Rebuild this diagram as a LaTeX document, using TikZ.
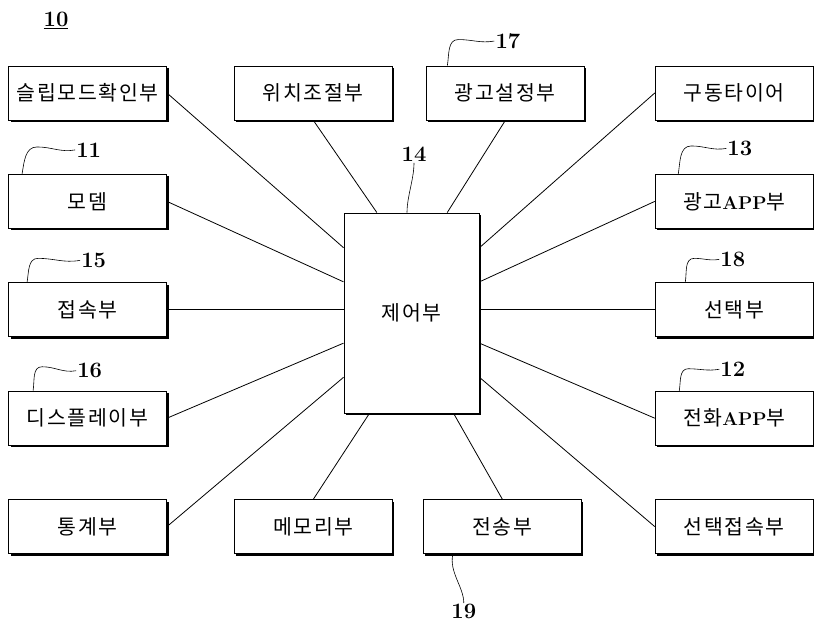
\documentclass[tikz,border=0pt]{standalone}
\usepackage{fontspec}
\newfontfamily\krfont[LetterSpace=8]{Noto Sans CJK KR}
\usetikzlibrary{calc,positioning,shadows}

\begin{document}
\begin{tikzpicture}[
    unit/.style={rectangle,draw,fill=white,line width=0.9pt,minimum width=158pt,minimum height=54pt,inner sep=0pt,
        font=\krfont\fontsize{20.5}{23}\selectfont,
        drop shadow={shadow xshift=2pt,shadow yshift=-2pt,fill=black,opacity=1}},
    ctrlbox/.style={unit,minimum width=135pt,minimum height=200pt},
    link/.style={line width=0.8pt},
    lead/.style={line width=0.6pt},
    refnum/.style={inner sep=1pt,font=\fontsize{22}{24}\selectfont\bfseries},
    node distance=53.5pt]
        \useasboundingbox (0,0) rectangle (814pt,-623pt);

        %boxes
        \node[unit] (slip) at (87.5pt,-93pt) {슬립모드확인부};
        \node[unit,below = of slip] (modem) {모뎀};
        \node[unit,below = of modem] (jeopsok) {접속부};
        \node[unit,below = of jeopsok] (disp) {디스플레이부};
        \node[unit,below = of disp] (stat) {통계부};

        \node[unit,right = 67pt of slip] (pos) {위치조절부};
        \node[unit,right = 33pt of pos] (adset) {광고설정부};
        \node[unit,right = 70pt of adset] (drive) {구동타이어};

        \node[unit,below = of drive] (adapp) {광고{\rmfamily\bfseries\fontsize{18.5}{22}\selectfont APP}부};
        \node[unit,below = of adapp] (select) {선택부};
        \node[unit,below = of select] (telapp) {전화{\rmfamily\bfseries\fontsize{18.5}{22}\selectfont APP}부};
        \node[unit,below = of telapp] (selcon) {선택접속부};

        \node[unit,right = 67pt of stat] (memory) {메모리부};
        \node[unit,right = 30pt of memory] (send) {전송부};

        \node[ctrlbox] (ctrl) at (411.5pt,-313pt) {제어부};

        %links
        \draw[link] (slip.east) -- ($(ctrl.north west)!.175!(ctrl.south west)$);
        \draw[link] (modem.east) -- ($(ctrl.north west)!.345!(ctrl.south west)$);
        \draw[link] (jeopsok.east) -- (jeopsok.east -| ctrl.west);
        \draw[link] (disp.east) -- ($(ctrl.north west)!.65!(ctrl.south west)$);
        \draw[link] (stat.east) -- ($(ctrl.north west)!.82!(ctrl.south west)$);

        \draw[link] (drive.west) -- ($(ctrl.north east)!.175!(ctrl.south east)$);
        \draw[link] (adapp.west) -- ($(ctrl.north east)!.345!(ctrl.south east)$);
        \draw[link] (select.west) -- (select.west -| ctrl.east);
        \draw[link] (telapp.west) -- ($(ctrl.north east)!.65!(ctrl.south east)$);
        \draw[link] (selcon.west) -- ($(ctrl.north east)!.82!(ctrl.south east)$);

        \draw[link] (pos.south) -- ($(ctrl.north west)!.245!(ctrl.north east)$);
        \draw[link] (adset.south) -- ($(ctrl.north west)!.763!(ctrl.north east)$);
        \draw[link] (memory.north) -- ($(ctrl.south west)!.19!(ctrl.south east)$);
        \draw[link] (send.north) -- ($(ctrl.south west)!.81!(ctrl.south east)$);

        %reference numbers
        \node[refnum] (n10) at (56pt,-20pt) {\underline{10}};
        \node[refnum,anchor=west] (n11) at ($(modem.north west)+(67pt,24pt)$) {11};
        \node[refnum,anchor=west] (n15) at ($(jeopsok.north west)+(72pt,22pt)$) {15};
        \node[refnum,anchor=west] (n16) at ($(disp.north west)+(68pt,20pt)$) {16};
        \node[refnum,anchor=west] (n17) at ($(adset.north west)+(68.5pt,24.5pt)$) {17};
        \node[refnum,anchor=west] (n13) at ($(adapp.north west)+(71.5pt,25.5pt)$) {13};
        \node[refnum,anchor=west] (n18) at ($(select.north west)+(64.5pt,23pt)$) {18};
        \node[refnum,anchor=west] (n12) at ($(telapp.north west)+(64.5pt,21.5pt)$) {12};
        \node[refnum] (n14) at ($(ctrl.north)+(2.5pt,58pt)$) {14};
        \node[refnum] (n19) at ($(send.south)+(-38.5pt,-57.5pt)$) {19};

        %leaders
        \draw[lead] ($(modem.north west)+(14pt,0)$) to[out=80,in=180] ++(15pt,27pt) to[out=0,in=190] (n11.west);
        \draw[lead] ($(jeopsok.north west)+(19pt,0)$) to[out=80,in=180] ++(11pt,24pt) to[out=0,in=190] (n15.west);
        \draw[lead] ($(disp.north west)+(25pt,0)$) to[out=80,in=180] ++(9pt,24pt) to[out=0,in=190] (n16.west);
        \draw[lead] ($(adset.north west)+(21.5pt,0)$) to[out=80,in=180] ++(11pt,26pt) to[out=0,in=190] (n17.west);
        \draw[lead] ($(adapp.north west)+(23.5pt,0)$) to[out=80,in=180] ++(13pt,28pt) to[out=0,in=190] (n13.west);
        \draw[lead] ($(select.north west)+(30.5pt,0)$) to[out=80,in=180] ++(9pt,24pt) to[out=0,in=190] (n18.west);
        \draw[lead] ($(telapp.north west)+(24.5pt,0)$) to[out=80,in=180] ++(9pt,22pt) to[out=0,in=190] (n12.west);
        \draw[lead] (n14.south) .. controls +(0,-16pt) and +(0,16pt) .. ($(ctrl.north)+(-4.5pt,0)$);
        \draw[lead] ($(send.south west)+(30pt,0)$) .. controls +(-4pt,-18pt) and +(0,16pt) .. (n19.north);
\end{tikzpicture}
\end{document}
